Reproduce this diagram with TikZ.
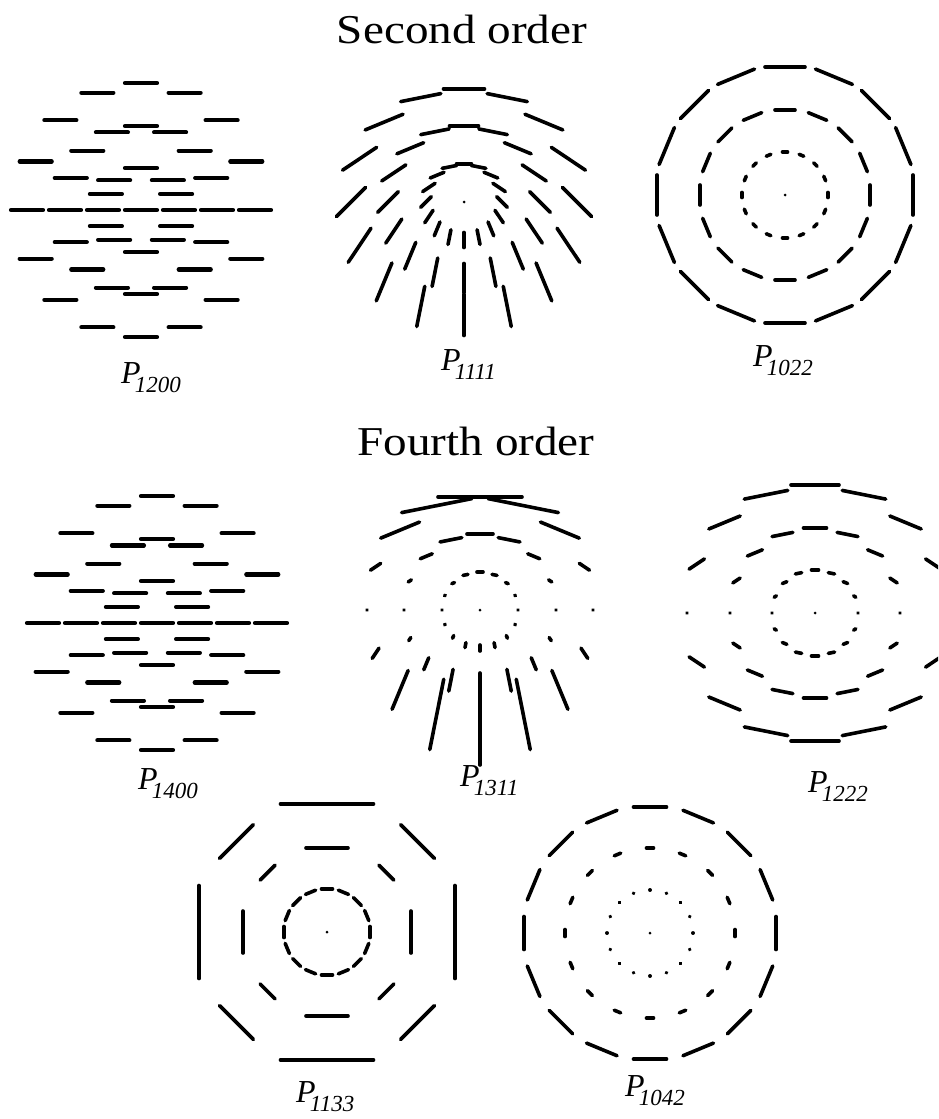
\documentclass[tikz,border=0pt]{standalone}
\usepackage{graphicx}
\usepackage{fontspec}
\setmainfont{Liberation Serif}
\usetikzlibrary{positioning,calc}

\newcommand{\subidx}[1]{\kern-0.18em\raisebox{-9pt}{\fontsize{23}{23}\selectfont #1}}

\tikzset{
  seg/.style={line width=3.6pt,line cap=round},
  title/.style={font=\fontsize{41}{41}\selectfont,anchor=base,inner sep=0pt},
  lab/.style={font=\fontsize{32}{32}\selectfont\itshape,anchor=base west,inner sep=0pt}
}

\begin{document}
\begin{tikzpicture}[x=1pt,y=1pt]
      \fill[white] (0,0) rectangle (938,-1119);
      \useasboundingbox (0,0) rectangle (938,-1119);
      \clip (0,0) rectangle (938,-1119);

      \node[title] (second) at (462,-43) {\scalebox{1.15}[1]{Second order}};
      \node[title] (fourth) at (476,-455) {\scalebox{1.15}[1]{Fourth order}};

      \coordinate (c1200) at (141,-210);
      \coordinate (c1111) at (464,-202);
      \coordinate (c1022) at (785,-195);
      \coordinate (c1400) at (157,-623);
      \coordinate (c1311) at (480,-610);
      \coordinate (c1222) at (815,-613);
      \coordinate (c1133) at (327,-932);
      \coordinate (c1042) at (650,-933);

      % P1200: horizontal bars
      \begin{scope}[shift={(c1200)},seg/.append style={line width=4.2pt}]
        \draw[seg] (-16,0) -- (16,0);
        \foreach \t in {0,22.5,45,90,135,157.5,180,202.5,225,270,315,337.5}
          \draw[seg] ({38*cos(\t)-16},{42*sin(\t)}) -- ++(32,0);
        \foreach \k in {0,...,15}{
          \pgfmathsetmacro\t{22.5*\k}
          \draw[seg] ({76*cos(\t)-16},{84*sin(\t)}) -- ++(32,0);
          \draw[seg] ({114*cos(\t)-16},{127*sin(\t)}) -- ++(32,0);
        }
      \end{scope}

      % P1111
      \begin{scope}[shift={(c1111)}]
        \fill (0,0) circle (1.5);
        \foreach \k in {0,...,15}
          \foreach \r/\l in {38/15,76/29,113/41}{
            \pgfmathsetmacro\t{22.5*\k}
            \pgfmathsetmacro\p{\t/2+135}
            \draw[seg] (\t:\r) ++(\p:\l/2) -- ++(\p+180:\l);
          }
      \end{scope}

      % P1022
      \begin{scope}[shift={(c1022)}]
        \fill (0,0) circle (1.5);
        \foreach \k in {0,...,15}
          \foreach \r/\l in {43/5,85/20,128/40}{
            \pgfmathsetmacro\t{22.5*\k}
            \draw[seg] (\t:\r) ++(\t+90:\l/2) -- ++(\t-90:\l);
          }
      \end{scope}

      % P1400: horizontal bars
      \begin{scope}[shift={(c1400)},seg/.append style={line width=4.2pt}]
        \draw[seg] (-16,0) -- (16,0);
        \foreach \t in {0,22.5,45,90,135,157.5,180,202.5,225,270,315,337.5}
          \draw[seg] ({38*cos(\t)-16},{42*sin(\t)}) -- ++(32,0);
        \foreach \k in {0,...,15}{
          \pgfmathsetmacro\t{22.5*\k}
          \draw[seg] ({76*cos(\t)-16},{84*sin(\t)}) -- ++(32,0);
          \draw[seg] ({114*cos(\t)-16},{127*sin(\t)}) -- ++(32,0);
        }
      \end{scope}

      % P1311
      \begin{scope}[shift={(c1311)}]
        \fill (0,0) circle (1.5);
        \foreach \k in {0,...,15}
          \foreach \r/\m in {38/6,76/26,113/84}{
            \pgfmathsetmacro\t{22.5*\k}
            \pgfmathsetmacro\p{\t/2+135}
            \pgfmathsetmacro\l{max(0.3,\m*sin(\t)^2)}
            \draw[seg] (\t:\r) ++(\p:\l/2) -- ++(\p+180:\l);
          }
      \end{scope}

      % P1222
      \begin{scope}[shift={(c1222)}]
        \fill (0,0) circle (1.5);
        \foreach \k in {0,...,15}
          \foreach \r/\m in {43/7,85/23,128/48}{
            \pgfmathsetmacro\t{22.5*\k}
            \pgfmathsetmacro\p{\t<=180 ? (\t-90)/2 : (\t-270)/2}
            \pgfmathsetmacro\l{max(0.3,\m*abs(sin(\t)))}
            \draw[seg] (\t:\r) ++(\p:\l/2) -- ++(\p+180:\l);
          }
      \end{scope}

      % P1133
      \begin{scope}[shift={(c1133)}]
        \fill (0,0) circle (1.5);
        \foreach \k in {0,...,15}{
          \pgfmathsetmacro\t{22.5*\k}
          \draw[seg] (\t:43) ++(\t+90:5.5) -- ++(\t-90:11);
        }
        \foreach \k in {0,...,7}{
          \pgfmathsetmacro\t{45*\k}
          \pgfmathsetmacro\lm{mod(\k,2)==0 ? 42 : 21}
          \pgfmathsetmacro\lo{mod(\k,2)==0 ? 93 : 48}
          \draw[seg] (\t:84) ++(\t+90:\lm/2) -- ++(\t-90:\lm);
          \draw[seg] (\t:128) ++(\t+90:\lo/2) -- ++(\t-90:\lo);
        }
      \end{scope}

      % P1042
      \begin{scope}[shift={(c1042)}]
        \fill (0,0) circle (1.5);
        \foreach \k in {0,...,15}
          \foreach \r/\l in {43/0.3,85/7,126/33}{
            \pgfmathsetmacro\t{22.5*\k}
            \draw[seg] (\t:\r) ++(\t+90:\l/2) -- ++(\t-90:\l);
          }
      \end{scope}

      \node[lab] (l1200) at (121,-383) {P\subidx{1200}};
      \node[lab] (l1111) at (441,-370) {P\subidx{1111}};
      \node[lab] (l1022) at (753,-366) {P\subidx{1022}};
      \node[lab] (l1400) at (138,-789) {P\subidx{1400}};
      \node[lab] (l1311) at (460,-786) {P\subidx{1311}};
      \node[lab] (l1222) at (808,-792) {P\subidx{1222}};
      \node[lab] (l1133) at (296,-1102) {P\subidx{1133}};
      \node[lab] (l1042) at (625,-1096) {P\subidx{1042}};
    \end{tikzpicture}
\end{document}
